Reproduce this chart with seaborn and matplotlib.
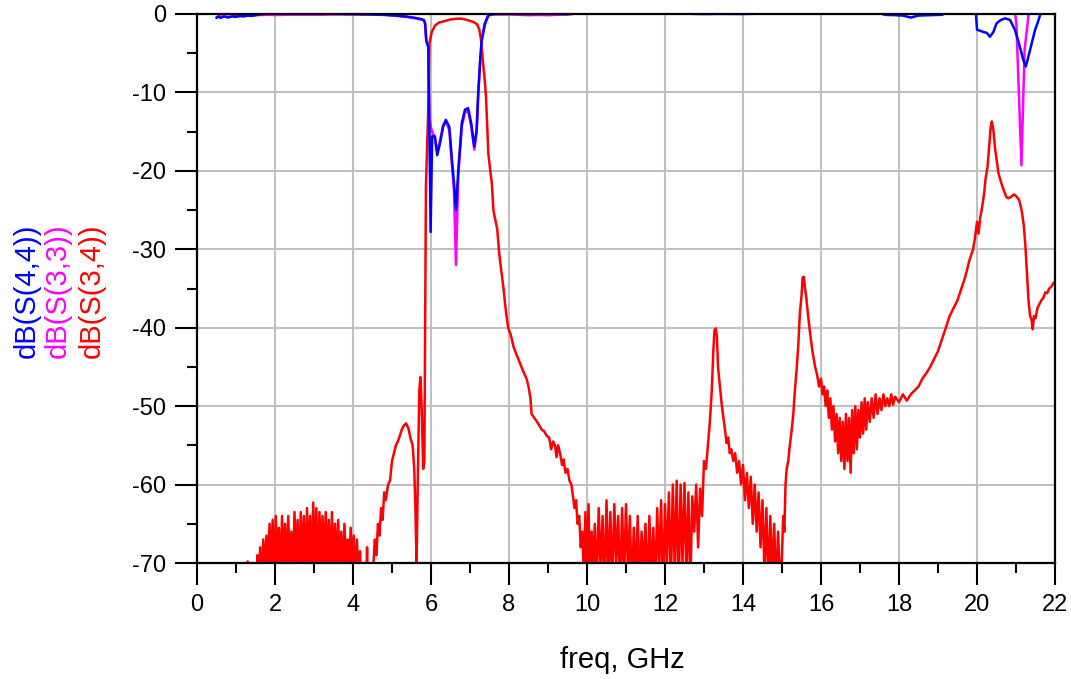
import matplotlib
matplotlib.use("Agg")
import matplotlib.pyplot as plt
import seaborn as sns
from matplotlib.ticker import MultipleLocator

# ---- data (freq in GHz, level in dB) ----
# values above 0 or below -70 are cut by the axes like in the original

freq_s34 = [1.20, 1.30, 1.34, 1.50, 1.55, 1.58, 1.62, 1.66, 1.70, 1.74, 1.78, 1.82, 1.86, 1.90, 1.94, 1.98,
            2.02, 2.06, 2.10, 2.14, 2.18, 2.22, 2.26, 2.30, 2.34, 2.38, 2.42, 2.46, 2.50, 2.54, 2.58, 2.62,
            2.66, 2.70, 2.74, 2.78, 2.82, 2.86, 2.90, 2.94, 2.98, 3.02, 3.06, 3.10, 3.14, 3.18, 3.22, 3.26,
            3.30, 3.34, 3.38, 3.42, 3.46, 3.50, 3.54, 3.58, 3.62, 3.66, 3.70, 3.74, 3.78, 3.82, 3.86, 3.90,
            3.94, 3.98, 4.02, 4.06, 4.10, 4.14, 4.18, 4.22, 4.33, 4.36, 4.39, 4.48, 4.52, 4.56, 4.60, 4.64,
            4.68, 4.72, 4.76, 4.80, 4.84, 4.90, 4.95, 5.00, 5.05, 5.10, 5.15, 5.20, 5.25, 5.30, 5.36, 5.42,
            5.48, 5.53, 5.57, 5.60, 5.63, 5.66, 5.70, 5.73, 5.76, 5.80, 5.83, 5.85, 5.87, 5.90, 5.93, 5.96,
            6.02, 6.10, 6.20, 6.35, 6.50, 6.65, 6.80, 6.95, 7.08, 7.18, 7.24, 7.28, 7.32, 7.37, 7.41, 7.44,
            7.47, 7.52, 7.56, 7.60, 7.66, 7.70, 7.74, 7.77, 7.82, 7.86, 7.90, 7.95, 7.98, 8.05, 8.12, 8.20,
            8.28, 8.36, 8.45, 8.50, 8.55, 8.58, 8.65, 8.72, 8.78, 8.84, 8.90, 8.97, 9.03, 9.08, 9.13, 9.18,
            9.22, 9.26, 9.31, 9.36, 9.40, 9.45, 9.50, 9.55, 9.60, 9.64, 9.68, 9.72, 9.76, 9.80, 9.84, 9.88,
            9.92, 9.96, 10.00, 10.04, 10.08, 10.12, 10.16, 10.20, 10.25, 10.30, 10.35, 10.40, 10.45, 10.50,
            10.55, 10.60, 10.65, 10.70, 10.75, 10.80, 10.85, 10.90, 10.95, 11.00, 11.05, 11.10, 11.15, 11.20,
            11.25, 11.30, 11.35, 11.40, 11.45, 11.50, 11.55, 11.60, 11.65, 11.70, 11.75, 11.80, 11.85, 11.90,
            11.95, 12.00, 12.05, 12.10, 12.15, 12.20, 12.25, 12.30, 12.35, 12.40, 12.45, 12.50, 12.55, 12.60,
            12.65, 12.70, 12.75, 12.80, 12.85, 12.90, 12.95, 13.00, 13.05, 13.10, 13.15, 13.20, 13.24, 13.27,
            13.30, 13.33, 13.36, 13.40, 13.45, 13.50, 13.55, 13.58, 13.62, 13.66, 13.70, 13.75, 13.80, 13.85,
            13.90, 13.95, 14.00, 14.05, 14.10, 14.15, 14.20, 14.25, 14.30, 14.35, 14.40, 14.45, 14.50, 14.55,
            14.60, 14.65, 14.70, 14.75, 14.80, 14.85, 14.90, 14.95, 15.00, 15.03, 15.06, 15.09, 15.12, 15.16,
            15.20, 15.25, 15.29, 15.33, 15.38, 15.42, 15.46, 15.50, 15.53, 15.56, 15.59, 15.62, 15.67, 15.72,
            15.78, 15.85, 15.90, 15.95, 16.00, 16.04, 16.08, 16.12, 16.16, 16.20, 16.24, 16.28, 16.32, 16.36,
            16.40, 16.44, 16.48, 16.52, 16.56, 16.60, 16.64, 16.68, 16.72, 16.76, 16.80, 16.84, 16.88, 16.92,
            16.96, 17.00, 17.04, 17.08, 17.12, 17.16, 17.20, 17.25, 17.30, 17.35, 17.40, 17.45, 17.50, 17.55,
            17.60, 17.65, 17.70, 17.75, 17.80, 17.85, 17.90, 18.00, 18.10, 18.20, 18.30, 18.40, 18.50, 18.60,
            18.70, 18.80, 18.90, 19.00, 19.10, 19.20, 19.30, 19.40, 19.50, 19.60, 19.70, 19.80, 19.90, 19.95,
            20.00, 20.04, 20.08, 20.12, 20.18, 20.22, 20.27, 20.31, 20.35, 20.38, 20.42, 20.46, 20.50, 20.55,
            20.62, 20.68, 20.75, 20.80, 20.88, 20.95, 21.00, 21.08, 21.12, 21.16, 21.20, 21.24, 21.28, 21.32,
            21.36, 21.40, 21.43, 21.46, 21.50, 21.55, 21.60, 21.65, 21.70, 21.75, 21.80, 21.85, 21.90, 21.96,
            22.00]
db_s34 = [-75, -69.8, -75, -75, -69, -72, -68, -73, -67, -72, -66.5, -71, -65, -70.5, -64.5, -72,
          -64, -71, -65.5, -73, -64, -70, -65, -72, -64, -71, -66, -73, -63.5, -70, -64.5, -72,
          -63.5, -71, -64, -73, -63, -70, -64, -72, -62.3, -71, -63, -73, -63.5, -70, -64, -72,
          -63.5, -71, -64.5, -73, -63.5, -70, -65, -72, -64.5, -71, -66, -73, -65, -70, -67, -72,
          -65.5, -71, -66.5, -73, -67, -72, -68.5, -75, -75, -68, -75, -75, -70.5, -67, -69, -65,
          -66.5, -63, -64.5, -61, -62, -60, -59.5, -57, -56, -55, -54.5, -53.8, -53, -52.5, -52.2, -52.8,
          -54.2, -55, -58, -63, -70, -60, -48, -46.3, -50, -58, -57, -40, -22, -17, -12, -3.7,
          -2.3, -1.5, -1.1, -0.9, -0.7, -0.6, -0.6, -0.8, -1.0, -1.3, -2.0, -3.2, -5.5, -8, -10.5, -14,
          -17.8, -20, -21.6, -25, -26.5, -27.5, -30, -31.5, -33.5, -35, -37, -39, -40, -41, -42.5, -43.5,
          -44.5, -45.5, -46.5, -47.5, -49, -51, -51.5, -52, -52.5, -53, -53.2, -53.8, -54, -55.5, -54.5, -55,
          -56.5, -55, -56, -57.5, -56.8, -58.5, -58, -59.5, -60, -61.5, -63, -62, -65, -64, -68, -66,
          -72, -63.5, -71, -62.5, -74, -66, -72, -65, -73, -63, -71, -64, -74, -62,
          -72, -63.5, -73, -62.5, -70, -64, -74, -63, -72, -62.5, -71, -64, -74, -65.5,
          -72, -64, -73, -66, -71, -65, -74, -64, -72, -65.5, -73, -63, -71, -62,
          -74, -62.5, -70, -61, -73, -60, -71, -59.5, -74, -60, -70, -59.8, -72, -61,
          -73, -61.5, -66, -60, -68, -60.5, -64, -57, -58, -55, -52, -48, -42.8, -40.3,
          -40.1, -41, -45, -47, -49.6, -51.5, -53.5, -54.7, -54, -56, -55.5, -57, -56, -58.5,
          -57, -60, -57.5, -62, -58.5, -63, -59, -65, -60, -66, -61, -68, -62, -71,
          -63, -73, -64, -72, -65, -74, -66, -73, -69, -64, -66, -60, -58, -57,
          -55, -53, -51, -48, -45, -42, -38, -36, -33.6, -33.5, -35, -36, -38.5, -40.7,
          -43, -45, -46, -47.5, -46.5, -48.5, -47.5, -50, -48, -51.5, -49, -53, -50, -54.5,
          -51, -56, -51.5, -57, -52, -58, -51, -57, -51.5, -58.5, -50.5, -56, -50, -55.5,
          -50.5, -54, -49.5, -53.5, -49, -53, -49.5, -52, -49, -51.5, -48.5, -51, -49, -50.5,
          -48.5, -50, -49, -50, -48.5, -49.8, -48.8, -49.5, -48.5, -49.3, -48.5, -48, -47.5, -46.5,
          -45.8, -45, -44, -43, -41.5, -40, -38.5, -37.5, -36.5, -35, -33.5, -31.5, -30, -28.5,
          -26.5, -28, -26, -25, -23, -21, -19.5, -17, -14.5, -13.7, -14.8, -17, -18.5, -20.3,
          -21.5, -22.4, -23.3, -23.5, -23.3, -23, -23.2, -23.7, -24.5, -25.5, -27, -29.5, -33, -36.5,
          -38.5, -39, -40.2, -38.5, -38.8, -37.5, -37, -36.5, -36.2, -35.5, -35.6, -35, -34.8, -34.3,
          -34.2]

freq_s44 = [0.50, 0.55, 0.60, 0.70, 0.80, 0.90, 1.00, 1.10, 1.20, 1.30, 1.40, 1.50, 1.60, 1.80, 2.00, 2.50,
            3.00, 3.50, 4.00, 4.50, 4.80, 5.10, 5.40, 5.60, 5.75, 5.82, 5.85, 5.88, 5.93, 5.96, 5.99, 6.03,
            6.10, 6.16, 6.23, 6.31, 6.38, 6.47, 6.53, 6.59, 6.64, 6.70, 6.79, 6.87, 6.95, 7.03, 7.11, 7.17,
            7.21, 7.26, 7.30, 7.38, 7.47, 7.60, 8.00, 8.50, 9.00, 9.50, 9.70, 10.00, 12.50, 12.70, 13.00, 13.50,
            14.00, 14.30, 14.50, 17.50, 17.65, 17.90, 18.10, 18.30, 18.50, 18.80, 19.10, 19.30, 19.97, 20.00,
            20.17, 20.25, 20.33, 20.42, 20.50, 20.60, 20.72, 20.85, 20.97, 21.05, 21.10, 21.19, 21.25, 21.30,
            21.36, 21.43, 21.49, 21.55, 21.62, 21.70, 22.00]
db_s44 = [-0.5, -0.3, -0.5, -0.3, -0.45, -0.3, -0.35, -0.25, -0.3, -0.2, -0.25, -0.15, -0.05, 0.05, 0.02, 0.05,
          0.03, 0.02, -0.02, -0.05, -0.1, -0.2, -0.35, -0.5, -0.65, -0.8, -1.2, -3.5, -4.2, -15.2, -27.8, -15.6,
          -15.6, -18, -16.5, -14.4, -13.5, -14.4, -18.2, -21.6, -25, -19.9, -13.9, -12.2, -12, -13.9, -16.9, -14.8,
          -10.1, -5.9, -3.3, -1.2, -0.15, 0.0, 0.02, 0.0, 0.02, -0.02, 0.05, 0.3, 0.3, 0.02, 0.0, 0.02,
          0.0, 0.03, 0.3, 0.3, -0.1, -0.15, -0.2, -0.45, -0.2, -0.15, -0.1, 0.3, 0.3, -2.0,
          -2.3, -2.4, -2.9, -2.3, -1.2, -0.8, -0.55, -0.77, -2, -3.3, -4.2, -5.9, -6.7, -5.8,
          -4.6, -3.2, -2, -1.2, -0.1, 0.3, 0.3]

freq_s33 = [0.50, 0.60, 0.80, 1.00, 1.20, 1.50, 1.80, 2.05, 2.30, 2.60, 3.10, 3.50, 4.00, 4.50, 4.80, 5.10,
            5.40, 5.60, 5.75, 5.82, 5.85, 5.88, 5.93, 5.96, 6.00, 6.03, 6.10, 6.16, 6.23, 6.31, 6.38, 6.47,
            6.53, 6.59, 6.64, 6.70, 6.79, 6.87, 6.95, 7.03, 7.11, 7.17, 7.21, 7.26, 7.30, 7.38, 7.47, 7.60,
            8.00, 8.50, 8.75, 9.00, 9.50, 9.70, 10.00, 17.50, 17.60, 17.80, 17.95, 20.97, 21.01, 21.14, 21.22,
            21.28, 21.33, 22.00]
db_s33 = [-0.4, -0.3, -0.35, -0.3, -0.25, -0.15, -0.1, -0.13, -0.1, -0.1, -0.1, -0.05, -0.05, -0.08, -0.12, -0.22,
          -0.38, -0.55, -0.7, -0.85, -1.3, -3.4, -4.0, -13.3, -14.5, -15, -15.8, -17.6, -16.2, -14.2, -13.7, -14.8,
          -18.8, -22.5, -32, -20.5, -14.3, -12.6, -12.3, -14.3, -17.3, -15, -10.5, -6.2, -3.5, -1.4, -0.2, -0.05,
          -0.05, -0.15, -0.12, -0.15, -0.05, 0.05, 0.3, 0.3, -0.1, -0.12, 0.3, 0.3, -1.2, -19.3, -4.6,
          -2, 0.3, 0.3]

x_ticks = list(range(0, 23, 2))
y_ticks = list(range(-70, 1, 10))

# ---- plot ----
sns.set_style("white")
plt.rcParams['font.family'] = ['Liberation Sans', 'DejaVu Sans']
plt.rcParams['text.color'] = 'black'
plt.rcParams['axes.unicode_minus'] = False

fig = plt.figure(figsize=(10.71, 6.79), dpi=100)
ax = fig.add_axes([197 / 1071, 1 - 563 / 679, (1055 - 197) / 1071, (563 - 14) / 679])

sns.lineplot(x=freq_s34, y=db_s34, ax=ax, color='#ff0000', linewidth=1.8)
sns.lineplot(x=freq_s33, y=db_s33, ax=ax, color='#ff00ff', linewidth=1.8)
sns.lineplot(x=freq_s44, y=db_s44, ax=ax, color='#0000ff', linewidth=1.8)

ax.set_xlim(0, 22)
ax.set_ylim(-70, 0)
ax.set_xticks(x_ticks)
ax.set_yticks(y_ticks)
ax.xaxis.set_minor_locator(MultipleLocator(1))
ax.yaxis.set_minor_locator(MultipleLocator(5))
ax.grid(True, which='major', color='#c0c0c0', linewidth=1.5)
ax.set_axisbelow(True)
ax.tick_params(which='major', direction='out', length=16, width=1.5, color='black',
               labelcolor='black', labelsize=17, pad=6, bottom=True, left=True)
ax.tick_params(which='minor', direction='out', length=7, width=1.5, color='black',
               bottom=True, left=True)
for s in ax.spines.values():
    s.set_color('black')
    s.set_linewidth(1.6)
ax.set_xlabel('')
ax.set_ylabel('')

# axis titles, y one coloured per trace
fig.text(622 / 1071, 1 - 660 / 679, 'freq, GHz', ha='center', va='center', fontsize=21, color='black')
fig.text(27 / 1071, 1 - 291 / 679, 'dB(S(4,4))', rotation=90, ha='center', va='center',
         fontsize=21, color='#0000ff')
fig.text(58 / 1071, 1 - 291 / 679, 'dB(S(3,3))', rotation=90, ha='center', va='center',
         fontsize=21, color='#ff00ff')
fig.text(92 / 1071, 1 - 291 / 679, 'dB(S(3,4))', rotation=90, ha='center', va='center',
         fontsize=21, color='#ff0000')

fig.savefig('out.png', dpi=100)
